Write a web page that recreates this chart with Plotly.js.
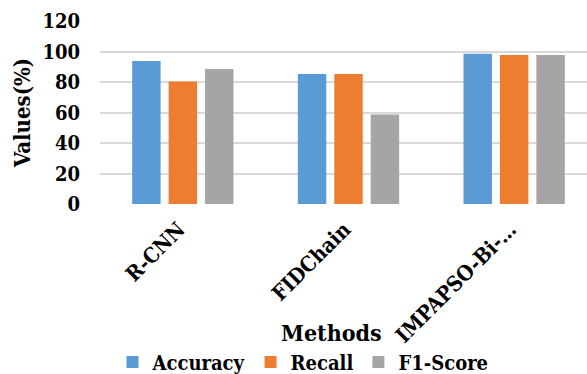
<!DOCTYPE html>
<html>
<head>
<meta charset="utf-8">
<script src="https://cdn.plot.ly/plotly-3.0.1.min.js"></script>
<style>
html,body{margin:0;padding:0;overflow:hidden;background:#fff;}
#chart{width:600px;height:374px;}
</style>
</head>
<body>
<div id="chart"></div>
<script>
const methods = ["R-CNN", "FIDChain", "IMPAPSO-Bi-…"];
const accuracy = [93.8, 85.2, 98.6];
const recall = [80.3, 85.2, 97.7];
const f1Score = [88.5, 58.7, 97.7];
const yTicks = [0, 20, 40, 60, 80, 100, 120];

const FONT = "DejaVu Serif Condensed, DejaVu Serif";
const traces = [
  {name: "Accuracy", values: accuracy, color: "#5B9BD5"},
  {name: "Recall", values: recall, color: "#ED7D31"},
  {name: "F1-Score", values: f1Score, color: "#A5A5A5"}
].map(s => ({
  type: "bar",
  name: s.name,
  x: methods,
  y: s.values,
  marker: {color: s.color, line: {width: 0}},
  hoverinfo: "x+y+name"
}));

const layout = {
  width: 600,
  height: 374,
  margin: {l: 100, r: 3, t: 21, b: 170, autoexpand: false},
  paper_bgcolor: "#ffffff",
  plot_bgcolor: "#ffffff",
  barmode: "group",
  bargap: 0.34,
  bargroupgap: 0.22,
  font: {family: FONT, color: "#000000"},
  xaxis: {
    type: "category",
    automargin: false,
    tickangle: -45,
    tickfont: {family: FONT, size: 21, weight: "bold", color: "#000"},
    showline: false,
    showgrid: false,
    zeroline: false,
    ticks: "",
    ticklabelstandoff: 8,
    ticklabelshift: -4
  },
  yaxis: {
    automargin: false,
    range: [0, 120],
    tickvals: yTicks,
    ticktext: yTicks.map(String),
    tickfont: {family: FONT, size: 20, weight: "bold", color: "#000"},
    showgrid: true,
    gridcolor: "#D9D9D9",
    gridwidth: 1.6,
    zeroline: false,
    showline: false,
    ticks: "",
    ticklabelstandoff: 19,
    title: {text: "Values(%)", font: {family: FONT, size: 22, weight: "bold", color: "#000"}, standoff: 5}
  },
  annotations: [{
    text: "Methods",
    xref: "paper", yref: "paper",
    x: 0.465, y: -0.704,
    xanchor: "center", yanchor: "middle",
    showarrow: false,
    font: {family: FONT, size: 23, weight: "bold", color: "#000"}
  }],
  showlegend: true,
  legend: {
    orientation: "h",
    xref: "container", yref: "container",
    x: 0.505, xanchor: "center",
    y: 0.084, yanchor: "top",
    font: {family: FONT, size: 20, weight: "bold", color: "#000"},
    bgcolor: "rgba(0,0,0,0)",
    traceorder: "normal"
  }
};

Plotly.newPlot("chart", traces, layout, {displayModeBar: false, responsive: false});
</script>
</body>
</html>
